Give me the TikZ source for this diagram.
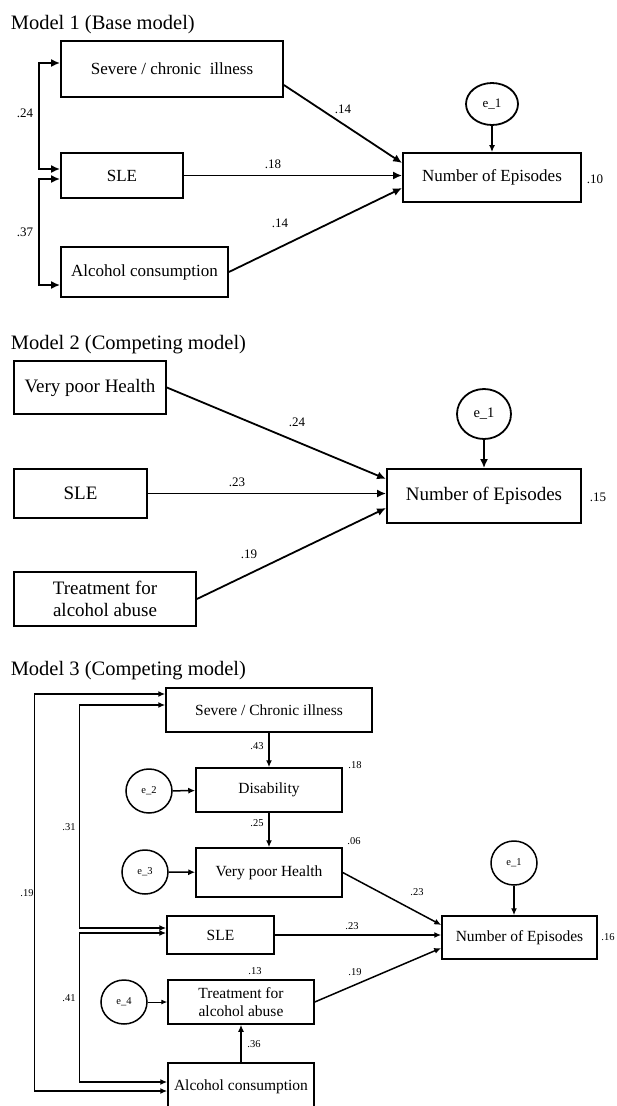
\documentclass[tikz,border=0pt]{standalone}
\usepackage{fontspec}
\setmainfont{Liberation Serif}
\usetikzlibrary{arrows.meta,shapes.geometric}

\begin{document}
\begin{tikzpicture}[x=1pt,y=-1pt,>={Latex[length=9pt,width=8pt]},line width=1.8pt,
  box/.style={draw,inner sep=0pt,align=center,font=\fontsize{17}{20}\selectfont},
  err/.style={draw,ellipse,inner sep=0pt,font=\fontsize{13}{15}\selectfont},
  coef/.style={inner sep=0pt,font=\fontsize{13}{15}\selectfont},
  ttl/.style={anchor=base west,inner sep=0pt,font=\fontsize{20.5}{24}\selectfont},
  big/.style={font=\fontsize{19}{21.7}\selectfont},
  thinbox/.style={line width=1.5pt,font=\fontsize{15.5}{18.3}\selectfont},
  thincoef/.style={font=\fontsize{10.5}{12}\selectfont},
  small/.style={line width=1.5pt,>={Latex[length=7pt,width=6pt]}}]
\clip (0,0) rectangle (616,1106);

% Model 1
\node[ttl] (t1) at (10,29) {Model 1 (Base model)};
\node[box,minimum width=222pt,minimum height=56pt] (ill1) at (172,69) {Severe / chronic \ illness};
\node[box,minimum width=122pt,minimum height=45pt] (sle1) at (122,175.5) {SLE};
\node[box,minimum width=167pt,minimum height=50pt] (alc1) at (144.5,272) {Alcohol consumption};
\node[box,minimum width=178pt,minimum height=49pt] (nep1) at (492,177.5) {Number of Episodes};
\node[err,minimum width=52pt,minimum height=42pt] (err1) at (492,104) {e\_1};
\draw[->] (ill1.east) ++(0,16) -- ([yshift=14.5pt]nep1.west);
\draw[->] (sle1.east) -- (sle1.east -| nep1.west);
\draw[->] (alc1.east) -- ([yshift=-10.5pt]nep1.west);
\draw[->,line width=1.4pt,>={Latex[length=7pt,width=6pt]}] (err1.south) -- (nep1.north);
\draw[<->] ([yshift=6pt]ill1.west) -- ++(-21,0) |- ([yshift=6.5pt]sle1.west);
\draw[<->] ([yshift=-3.5pt]sle1.west) -- ++(-21,0) |- ([yshift=-13pt]alc1.west);
\node[coef] (r24) at (25,113) {.24};
\node[coef] (r37) at (25,232) {.37};
\node[coef] (b14a) at (343,109) {.14};
\node[coef] (b18) at (273,164) {.18};
\node[coef] (b14b) at (280,223) {.14};
\node[coef] (q10) at (595,179) {.10};

% Model 2
\node[ttl] (t2) at (10,349) {Model 2 (Competing model)};
\node[box,big,minimum width=152pt,minimum height=53pt] (vph2) at (90,387.5) {Very poor Health};
\node[box,big,minimum width=133pt,minimum height=49pt] (sle2) at (80.5,493.5) {SLE};
\node[box,big,minimum width=182pt,minimum height=54pt] (trt2) at (105,599) {Treatment for\\alcohol abuse};
\node[box,big,minimum width=194pt,minimum height=54pt] (nep2) at (484,496) {Number of Episodes};
\node[err,minimum width=54pt,minimum height=50pt,font=\fontsize{14.5}{16}\selectfont] (err2) at (484,414) {e\_1};
\draw[->] (vph2.east) -- ([yshift=17pt]nep2.west);
\draw[->] (sle2.east) -- (sle2.east -| nep2.west);
\draw[->] (trt2.east) -- ([yshift=-12pt]nep2.west);
\draw[->] (err2.south) -- (nep2.north);
\node[coef] (b24) at (297,422) {.24};
\node[coef] (b23) at (237,482) {.23};
\node[coef] (b19) at (249,554) {.19};
\node[coef] (q15) at (598,497) {.15};

% Model 3
\begin{scope}[small]
\node[ttl] (t3) at (10,675) {Model 3 (Competing model)};
\node[box,thinbox,minimum width=206pt,minimum height=44pt] (ill3) at (269,710) {Severe / Chronic illness};
\node[box,thinbox,minimum width=146pt,minimum height=44pt] (dis3) at (269,790) {Disability};
\node[box,thinbox,minimum width=146pt,minimum height=49pt] (vph3) at (269,872.5) {Very poor Health};
\node[box,thinbox,minimum width=107pt,minimum height=38pt] (sle3) at (220.5,935) {SLE};
\node[box,thinbox,minimum width=146pt,minimum height=44pt] (trt3) at (241,1002) {Treatment for\\alcohol abuse};
\node[box,thinbox,minimum width=146pt,minimum height=48pt] (alc3) at (241,1087) {Alcohol consumption};
\node[box,thinbox,minimum width=155pt,minimum height=43pt] (nep3) at (519.5,937.5) {Number of Episodes};
\node[err,thincoef,minimum width=46pt,minimum height=44pt] (e1) at (514,863) {e\_1};
\node[err,thincoef,minimum width=46pt,minimum height=44pt] (e2) at (149,791) {e\_2};
\node[err,thincoef,minimum width=46pt,minimum height=44pt] (e3) at (145,872) {e\_3};
\node[err,thincoef,minimum width=46pt,minimum height=44pt] (e4) at (124,1002) {e\_4};
\draw[->] (ill3.south) -- (dis3.north);
\draw[->] (dis3.south) -- (vph3.north);
\draw[->] (e2) -- (dis3);
\draw[->] (e3) -- (vph3);
\draw[->,line width=1pt,>={Latex[length=6pt,width=5pt]}] (e4) -- (trt3);
\draw[->] (vph3.east) -- ([yshift=12.5pt]nep3.west);
\draw[->] (sle3.east) -- (sle3.east -| nep3.west);
\draw[->] (trt3.east) -- ([yshift=-10.5pt]nep3.west);
\draw[->] (alc3.north) -- (trt3.south);
\draw[->] (e1.south) -- (e1.south |- nep3.north);
\draw[<->] ([yshift=16pt]ill3.west) -- ++(-131,0) |- ([yshift=-4pt]alc3.west);
\draw[<->] ([yshift=5pt]ill3.west) -- ++(-86,0) |- ([yshift=7pt]sle3.west);
\draw[<->] ([yshift=2pt]sle3.west) -- ++(-87,0) |- ([yshift=5pt]alc3.west);
\node[coef,thincoef] (c43) at (257,746) {.43};
\node[coef,thincoef] (q18) at (355,765) {.18};
\node[coef,thincoef] (c25) at (257,823) {.25};
\node[coef,thincoef] (q06) at (354,841) {.06};
\node[coef,thincoef] (c23a) at (417,892) {.23};
\node[coef,thincoef] (c23b) at (352,926) {.23};
\node[coef,thincoef] (c19) at (355,972) {.19};
\node[coef,thincoef] (q13) at (255,971) {.13};
\node[coef,thincoef] (c36) at (254,1044) {.36};
\node[coef,thincoef] (q16) at (608,937) {.16};
\node[coef,thincoef] (r19) at (27,893) {.19};
\node[coef,thincoef] (r31) at (69,827) {.31};
\node[coef,thincoef] (r41) at (69,998) {.41};
\end{scope}
\end{tikzpicture}
\end{document}
